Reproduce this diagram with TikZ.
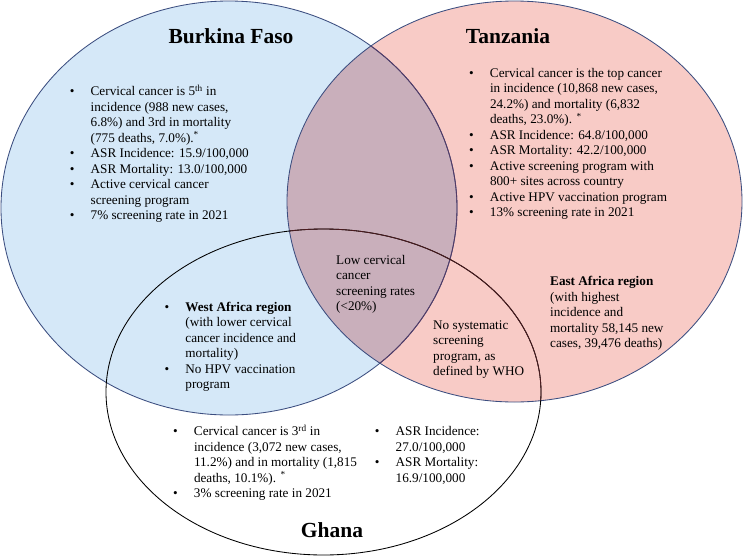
\documentclass[tikz,border=0pt]{standalone}
\usepackage{fontspec}
\setmainfont{Liberation Serif}
\definecolor{bfill}{RGB}{213,232,248}
\definecolor{rfill}{RGB}{248,203,198}
\definecolor{ofill}{RGB}{201,175,187}
\definecolor{navy}{RGB}{60,78,128}
\definecolor{navyp}{RGB}{84,58,100}
\definecolor{gdark}{RGB}{74,26,30}
\newcommand\bulx{\makebox[18.5pt][l]{\makebox[0pt][c]{\textbullet}}}
\newcommand\indx{\hspace*{18.5pt}}
\tikzset{
  body/.style={inner sep=0pt, anchor=base west, font=\fontsize{13.2}{15.5}\selectfont},
  title/.style={inner sep=0pt, anchor=base, font=\fontsize{21.5}{24}\selectfont\bfseries},
  outline/.style={line width=0.85pt}
}
\begin{document}
\begin{tikzpicture}[x=1pt,y=-1pt]
\useasboundingbox (0,0) rectangle (744,557);
\fill[white] (0,0) rectangle (744,557);
% fills
\fill[bfill] (229,208) ellipse [x radius=228, y radius=207];
\fill[rfill] (514.5,201.5) ellipse [x radius=227.5, y radius=200.5];
\begin{scope}
  \clip (229,208) ellipse [x radius=228, y radius=207];
  \fill[ofill] (514.5,201.5) ellipse [x radius=227.5, y radius=200.5];
\end{scope}
% outlines
\draw[outline, navy] (229,208) ellipse [x radius=228, y radius=207];
\begin{scope}
  \clip (514.5,201.5) ellipse [x radius=227.5, y radius=200.5];
  \draw[outline, navyp] (229,208) ellipse [x radius=228, y radius=207];
\end{scope}
\draw[outline, navy] (514.5,201.5) ellipse [x radius=227.5, y radius=200.5];
\draw[outline, black] (323.5,392) ellipse [x radius=217.5, y radius=163];
\begin{scope}
  \clip (514.5,201.5) ellipse [x radius=227.5, y radius=200.5];
  \draw[outline, gdark] (323.5,392) ellipse [x radius=217.5, y radius=163];
\end{scope}
% titles
\node[title] (tbf) at (231,43) {Burkina Faso};
\node[title] (ttz) at (508,43) {Tanzania};
\node[title] (tgh) at (332,537) {Ghana};
% Burkina Faso list
\node[body] (lbf) at (72,95.5) {\begin{tabular}[t]{@{}l@{}}
\bulx Cervical cancer is 5\textsuperscript{th} in\\
\indx incidence (988 new cases,\\
\indx 6.8\%) and 3rd in mortality\\
\indx (775 deaths, 7.0\%).\textsuperscript{*}\\
\bulx ASR Incidence: 15.9/100,000\\
\bulx ASR Mortality: 13.0/100,000\\
\bulx Active cervical cancer\\
\indx screening program\\
\bulx 7\% screening rate in 2021
\end{tabular}};
% Tanzania list
\node[body] (ltz) at (471.3,77) {\begin{tabular}[t]{@{}l@{}}
\bulx Cervical cancer is the top cancer\\
\indx in incidence (10,868 new cases,\\
\indx 24.2\%) and mortality (6,832\\
\indx deaths, 23.0\%). \textsuperscript{*}\\
\bulx ASR Incidence: 64.8/100,000\\
\bulx ASR Mortality: 42.2/100,000\\
\bulx Active screening program with\\
\indx 800+ sites across country\\
\bulx Active HPV vaccination program\\
\bulx 13\% screening rate in 2021
\end{tabular}};
% West Africa
\node[body] (lwa) at (166.7,311) {\begin{tabular}[t]{@{}l@{}}
\bulx \textbf{West Africa region}\\
\indx (with lower cervical\\
\indx cancer incidence and\\
\indx mortality)\\
\bulx No HPV vaccination\\
\indx program
\end{tabular}};
% Low screening (centre)
\node[body] (llow) at (336,264) {\begin{tabular}[t]{@{}l@{}}
Low cervical\\
cancer\\
screening rates\\
(<20\%)
\end{tabular}};
% No systematic
\node[body] (lnos) at (433,329) {\begin{tabular}[t]{@{}l@{}}
No systematic\\
screening\\
program, as\\
defined by WHO
\end{tabular}};
% East Africa
\node[body] (lea) at (550,285.5) {\begin{tabular}[t]{@{}l@{}}
\textbf{East Africa region}\\
(with highest\\
incidence and\\
mortality 58,145 new\\
cases, 39,476 deaths)
\end{tabular}};
% Ghana lists
\node[body] (lgh1) at (175.3,435.5) {\begin{tabular}[t]{@{}l@{}}
\bulx Cervical cancer is 3\textsuperscript{rd} in\\
\indx incidence (3,072 new cases,\\
\indx 11.2\%) and in mortality (1,815\\
\indx deaths, 10.1\%). \textsuperscript{*}\\
\bulx 3\% screening rate in 2021
\end{tabular}};
\node[body] (lgh2) at (377,435.5) {\begin{tabular}[t]{@{}l@{}}
\bulx ASR Incidence:\\
\indx 27.0/100,000\\
\bulx ASR Mortality:\\
\indx 16.9/100,000
\end{tabular}};
\end{tikzpicture}
\end{document}
